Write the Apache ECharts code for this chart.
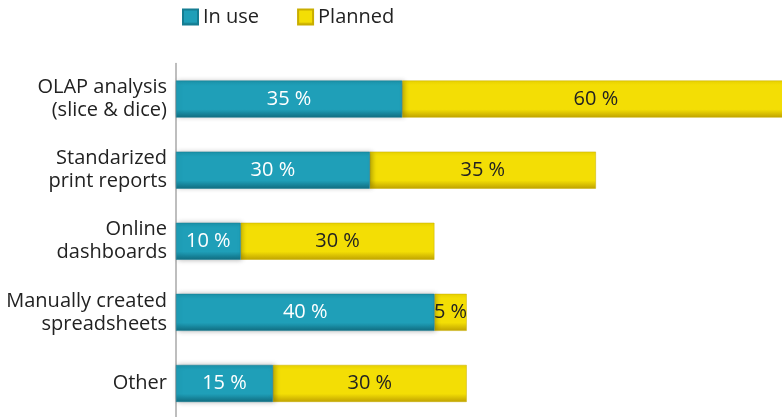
<!DOCTYPE html>
<html>
<head>
<meta charset="utf-8">
<script src="https://cdn.jsdelivr.net/npm/echarts@6/dist/echarts.min.js"></script>
<style>
  html, body { margin: 0; padding: 0; background: #fff; }
  #chart { width: 782px; height: 417px; }
</style>
</head>
<body>
<div id="chart"></div>
<script>
// Reporting tools: share of companies using or planning each kind
const categories = [
  'OLAP analysis\n(slice & dice)',
  'Standarized\nprint reports',
  'Online\ndashboards',
  'Manually created\nspreadsheets',
  'Other'
];
const inUse = [35, 30, 10, 40, 15];
const planned = [60, 35, 30, 5, 30];
const seriesNames = ['In use', 'Planned'];

const FONT = '"Open Sans", "Noto Sans", sans-serif';

function bevel(top, mid, bottom) {
  return new echarts.graphic.LinearGradient(0, 0, 0, 1, [
    { offset: 0, color: top },
    { offset: 0.12, color: mid },
    { offset: 0.78, color: mid },
    { offset: 1, color: bottom }
  ]);
}

const tealFill = bevel('#1b93ab', '#1f9fb8', '#116f83');
const yellowFill = bevel('#e6d000', '#f3de05', '#bfa200');

const chart = echarts.init(document.getElementById('chart'), null, { renderer: 'canvas' });

chart.setOption({
  animation: false,
  backgroundColor: '#ffffff',
  legend: {
    left: 177,
    top: 2,
    itemWidth: 15,
    itemHeight: 15,
    itemGap: 38,
    icon: 'rect',
    textStyle: { fontFamily: FONT, fontSize: 20, color: '#222' },
    data: [
      { name: seriesNames[0], itemStyle: { color: tealFill } },
      { name: seriesNames[1], itemStyle: { color: yellowFill } }
    ]
  },
  // plot area runs past the right edge, so the longest bar is cut off
  grid: {
    left: 176,
    top: 63.5,
    width: 646,
    height: 355.5,
    containLabel: false,
    outerBoundsMode: 'none'
  },
  xAxis: {
    type: 'value',
    min: 0,
    max: 100,
    show: false
  },
  yAxis: {
    type: 'category',
    inverse: true,
    data: categories,
    axisLine: { show: true, lineStyle: { color: '#a8a8a8', width: 1.5 } },
    axisTick: { show: false },
    axisLabel: {
      fontFamily: FONT,
      fontSize: 20,
      color: '#222',
      lineHeight: 23,
      align: 'right',
      margin: 9
    }
  },
  series: [
    {
      name: seriesNames[0],
      type: 'bar',
      stack: 'total',
      barWidth: 37,
      z: 3,
      data: inUse,
      itemStyle: {
        color: tealFill,
        borderColor: '#157d92',
        borderWidth: 0.5,
        shadowColor: 'rgba(0,0,0,0.28)',
        shadowBlur: 5,
        shadowOffsetX: 2
      },
      label: {
        show: true,
        position: 'inside',
        formatter: '{c} %',
        fontFamily: FONT,
        fontSize: 20,
        color: '#ffffff'
      }
    },
    {
      name: seriesNames[1],
      type: 'bar',
      stack: 'total',
      barWidth: 37,
      z: 2,
      data: planned,
      itemStyle: { color: yellowFill, borderColor: '#c9ae00', borderWidth: 0.5 },
      label: {
        show: true,
        position: 'inside',
        formatter: '{c} %',
        fontFamily: FONT,
        fontSize: 20,
        color: '#222'
      }
    }
  ]
});
</script>
</body>
</html>
